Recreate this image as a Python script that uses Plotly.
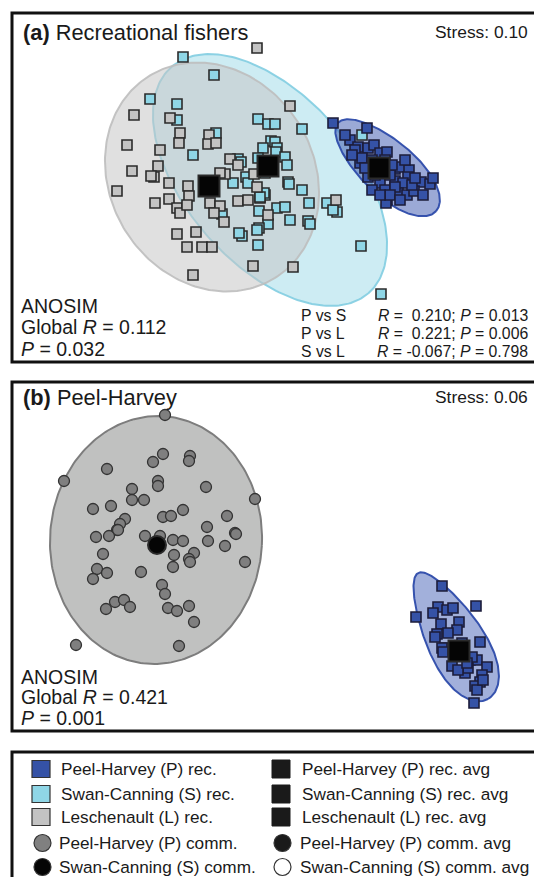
import numpy as np
import plotly.graph_objects as go

W, H = 534, 877
FONT = "Liberation Sans, Arial, Helvetica, sans-serif"

# ---------------- Panel (a): recreational fishers (nMDS plot units) ----------------
recA_P_x = [333, 367, 350, 358, 368, 374, 380, 387, 360, 395, 400, 409, 408, 368, 380, 395, 403, 390,
            421, 430, 433, 398, 407, 414, 423, 387, 386, 345, 355, 362, 372, 385, 392, 375, 385, 395,
            412, 365, 372, 390, 400, 380, 352, 415, 405]
recA_P_y = [123, 128, 140, 147, 148, 145, 153, 152, 163, 169, 167, 170, 177, 177, 183, 181, 183, 175,
            182, 184, 178, 193, 195, 191, 195, 200, 203, 135, 150, 158, 160, 160, 165, 175, 190, 187,
            185, 168, 190, 195, 200, 195, 155, 178, 160]

recA_S_x = [183, 214, 150, 177, 177, 216, 238, 193, 258, 268, 275, 302, 271, 275, 263, 277, 258, 276,
            285, 287, 265, 288, 289, 302, 265, 260, 233, 246, 264, 260, 277, 285, 259, 268, 259, 257,
            242, 239, 258, 290, 308, 310, 309, 327, 337, 333, 361, 381, 362, 222, 241, 248]
recA_S_y = [57, 75, 99, 104, 120, 133, 159, 155, 119, 124, 124, 129, 141, 142, 148, 148, 158, 152,
            157, 165, 173, 182, 184, 190, 195, 198, 183, 177, 193, 197, 208, 207, 211, 224, 228, 230,
            236, 233, 245, 220, 221, 224, 203, 203, 212, 210, 246, 294, 135, 214, 162, 183]

recA_L_x = [257, 290, 134, 170, 180, 209, 179, 208, 216, 127, 160, 230, 238, 158, 132, 154, 117, 169,
            188, 189, 225, 254, 155, 169, 177, 180, 187, 210, 220, 214, 224, 238, 248, 257, 268, 177,
            196, 187, 202, 212, 253, 293, 193, 336, 151, 220]
recA_L_y = [48, 106, 115, 118, 133, 135, 143, 144, 143, 145, 150, 159, 165, 166, 171, 177, 191, 183,
            186, 196, 174, 174, 203, 199, 208, 213, 205, 203, 206, 213, 222, 201, 200, 187, 215, 234,
            232, 247, 247, 247, 266, 267, 275, 200, 176, 173]

# group averages P, S, L
recA_avg_x = [379, 268, 209]
recA_avg_y = [168, 166, 186]

# ---------------- Panel (b): Peel-Harvey ----------------
commB_x = [165, 107, 64, 153, 163, 190, 189, 158, 158, 132, 132, 144, 206, 255, 93, 111, 125, 120,
           117, 163, 171, 183, 227, 207, 235, 96, 109, 118, 145, 160, 173, 183, 208, 225, 236, 103,
           174, 194, 189, 190, 245, 97, 107, 93, 141, 173, 162, 165, 115, 124, 130, 106, 168, 177,
           189, 194, 76, 179]
commB_y = [415, 469, 481, 462, 454, 456, 461, 481, 486, 489, 500, 500, 487, 499, 509, 506, 519, 524,
           530, 517, 516, 510, 516, 527, 533, 537, 536, 530, 536, 536, 540, 541, 541, 546, 534, 554,
           555, 553, 559, 562, 562, 569, 573, 579, 572, 567, 585, 594, 602, 600, 607, 609, 608, 611,
           606, 622, 645, 646]
commB_avg_x = [157]
commB_avg_y = [545]

recB_x = [442, 416, 476, 438, 433, 447, 453, 441, 459, 457, 437, 435, 448, 480, 445, 462, 452, 470,
          477, 487, 465, 482, 480, 475, 477, 474, 468, 458, 442, 443, 472, 467, 483]
recB_y = [586, 617, 606, 607, 613, 610, 608, 624, 622, 630, 634, 637, 633, 642, 648, 643, 666, 660,
          660, 667, 673, 675, 682, 686, 690, 703, 668, 670, 648, 652, 657, 663, 680]
recB_avg_x = [459]
recB_avg_y = [651]

# ellipses: (cx, cy, a, b, angle deg, egg factor)
ELL_A_S = (270, 180, 150, 84, 49, 0.0)
ELL_A_L = (212, 177, 119, 102, 58, 0.0)
ELL_A_P = (387, 167, 66, 27, 42, 0.1)
ELL_B_C = (156, 540, 106, 124, 3, 0.0)
ELL_B_P = (453, 636, 72, 28, 61, 0.28)

C_BLUE = "#3552a6"
C_CYAN = "#8fd6e6"
C_GRAY = "#c3c3c3"
C_EDGE = "#2b2b2b"


def ellipse(cx, cy, a, b, ang, k):
    t = np.linspace(0, 2 * np.pi, 240)
    th = np.deg2rad(ang)
    u = a * np.cos(t)
    v = b * np.sin(t) * (1 + k * np.cos(t))
    x = cx + u * np.cos(th) - v * np.sin(th)
    y = cy + u * np.sin(th) + v * np.cos(th)
    return x, y


def px(x):
    return x / W


def py(y):
    return 1 - y / H


fig = go.Figure()


def add_ell(par, fill, line, xa, ya, lw=2):
    x, y = ellipse(*par)
    fig.add_trace(go.Scatter(x=x, y=y, mode="lines", fill="toself", fillcolor=fill,
                             line=dict(color=line, width=lw), xaxis=xa, yaxis=ya,
                             hoverinfo="skip", showlegend=False))


def add_pts(x, y, sym, size, color, edge, lw, xa, ya):
    fig.add_trace(go.Scatter(x=x, y=y, mode="markers", xaxis=xa, yaxis=ya, showlegend=False,
                             marker=dict(symbol=sym, size=size, color=color,
                                         line=dict(color=edge, width=lw))))


# panel (a)
add_ell(ELL_A_S, "rgba(150,215,230,0.48)", "rgba(130,205,225,0.9)", "x", "y")
add_ell(ELL_A_L, "rgba(198,198,198,0.55)", "rgba(190,190,190,0.9)", "x", "y")
add_ell(ELL_A_P, "rgba(45,75,170,0.48)", "rgba(45,75,170,0.95)", "x", "y")
add_pts(recA_S_x, recA_S_y, "square", 10, C_CYAN, C_EDGE, 1.6, "x", "y")
add_pts(recA_L_x, recA_L_y, "square", 10, C_GRAY, C_EDGE, 1.6, "x", "y")
add_pts(recA_P_x, recA_P_y, "square", 10, C_BLUE, "#1c1c3a", 1.6, "x", "y")
add_pts(recA_avg_x, recA_avg_y, "square", 21, "#050505", "#2a2a2a", 2, "x", "y")

# panel (b)
add_ell(ELL_B_C, "rgba(192,193,192,1)", "#7d7d7d", "x2", "y2")
add_ell(ELL_B_P, "rgba(60,90,180,0.48)", "rgba(45,75,170,0.95)", "x2", "y2")
add_pts(commB_x, commB_y, "circle", 11, "#7f7f7f", "#333333", 1.3, "x2", "y2")
add_pts(recB_x, recB_y, "square", 10, C_BLUE, "#1c1c3a", 1.6, "x2", "y2")
add_pts(commB_avg_x, commB_avg_y, "circle", 18, "#050505", "#2a2a2a", 2, "x2", "y2")
add_pts(recB_avg_x, recB_avg_y, "square", 21, "#050505", "#2a2a2a", 2, "x2", "y2")

ax = dict(visible=False, range=[0, W], domain=[0, 1], fixedrange=True)
shapes = []
# frames
for y0, y1 in [(13, 362), (382, 731), (752, 900)]:
    shapes.append(dict(type="rect", xref="paper", yref="paper", x0=px(12), x1=px(545),
                       y0=py(y1), y1=py(y0), line=dict(color="#111111", width=3)))

ann = []


def text(x, y, s, size, anchor="left"):
    ann.append(dict(x=px(x), y=py(y), xref="paper", yref="paper", text=s, showarrow=False,
                    xanchor=anchor, yanchor="middle", font=dict(family=FONT, size=size, color="#1a1a1a")))


text(21, 32, "<b>(a)</b> Recreational fishers", 21.8)
text(530, 32, "Stress: 0.10", 17.4, "right")
text(19, 306, "ANOSIM", 19.5)
text(19, 327, "Global <i>R</i> = 0.112", 19.5)
text(19, 349, "<i>P</i> = 0.032", 19.5)
pair_lbl = ["P vs S", "P vs L", "S vs L"]
pair_R = ["0.210", "0.221", "-0.067"]
pair_P = ["0.013", "0.006", "0.798"]
for i in range(3):
    yy = 315.5 + i * 18.2
    text(299, yy, pair_lbl[i], 15.8)
    rv = pair_R[i] if pair_R[i].startswith("-") else "\u00a0" + pair_R[i]
    text(530, yy, f"<i>R</i> = {rv}; <i>P</i> = {pair_P[i]}", 15.8, "right")

text(21, 397, "<b>(b)</b> Peel-Harvey", 21.8)
text(530, 397, "Stress: 0.06", 17.4, "right")
text(19, 677, "ANOSIM", 19.5)
text(19, 697, "Global <i>R</i> = 0.421", 19.5)
text(19, 718, "<i>P</i> = 0.001", 19.5)

# legend
rows = [769, 794, 817, 843, 867]
leg_left = ["Peel-Harvey (P) rec.", "Swan-Canning (S) rec.", "Leschenault (L) rec.",
            "Peel-Harvey (P) comm.", "Swan-Canning (S) comm."]
leg_right = ["Peel-Harvey (P) rec. avg", "Swan-Canning (S) rec. avg", "Leschenault (L) rec. avg",
             "Peel-Harvey (P) comm. avg", "Swan-Canning (S) comm. avg"]
sq_fill = [C_BLUE, C_CYAN, C_GRAY]
for i in range(5):
    y = rows[i]
    if i < 3:
        shapes.append(dict(type="rect", xref="paper", yref="paper", x0=px(32), x1=px(50),
                           y0=py(y + 8.5), y1=py(y - 8.5), fillcolor=sq_fill[i],
                           line=dict(color="#333333", width=1.2)))
        shapes.append(dict(type="rect", xref="paper", yref="paper", x0=px(272), x1=px(290),
                           y0=py(y + 9), y1=py(y - 9), fillcolor="#1a1a1a",
                           line=dict(color="#1a1a1a", width=1)))
        text(59, y, leg_left[i], 17.2)
        text(300, y, leg_right[i], 17.2)
    else:
        f1 = "#808080" if i == 3 else "#050505"
        f2 = "#1a1a1a" if i == 3 else "#ffffff"
        shapes.append(dict(type="circle", xref="paper", yref="paper", x0=px(34), x1=px(51),
                           y0=py(y + 8.5), y1=py(y - 8.5), fillcolor=f1,
                           line=dict(color="#333333", width=1.2)))
        shapes.append(dict(type="circle", xref="paper", yref="paper", x0=px(274), x1=px(291),
                           y0=py(y + 8.5), y1=py(y - 8.5), fillcolor=f2,
                           line=dict(color="#333333", width=1.2)))
        text(57, y, leg_left[i], 17.2)
        text(298, y, leg_right[i], 17.2)

fig.update_layout(
    width=W, height=H, margin=dict(l=0, r=0, t=0, b=0),
    paper_bgcolor="white", plot_bgcolor="rgba(0,0,0,0)", showlegend=False,
    xaxis=dict(ax, anchor="y"),
    yaxis=dict(visible=False, range=[362, 13], domain=[py(362), py(13)], fixedrange=True, anchor="x"),
    xaxis2=dict(ax, anchor="y2"),
    yaxis2=dict(visible=False, range=[731, 382], domain=[py(731), py(382)], fixedrange=True, anchor="x2"),
    shapes=shapes, annotations=ann,
)

fig.write_html("out.html")
